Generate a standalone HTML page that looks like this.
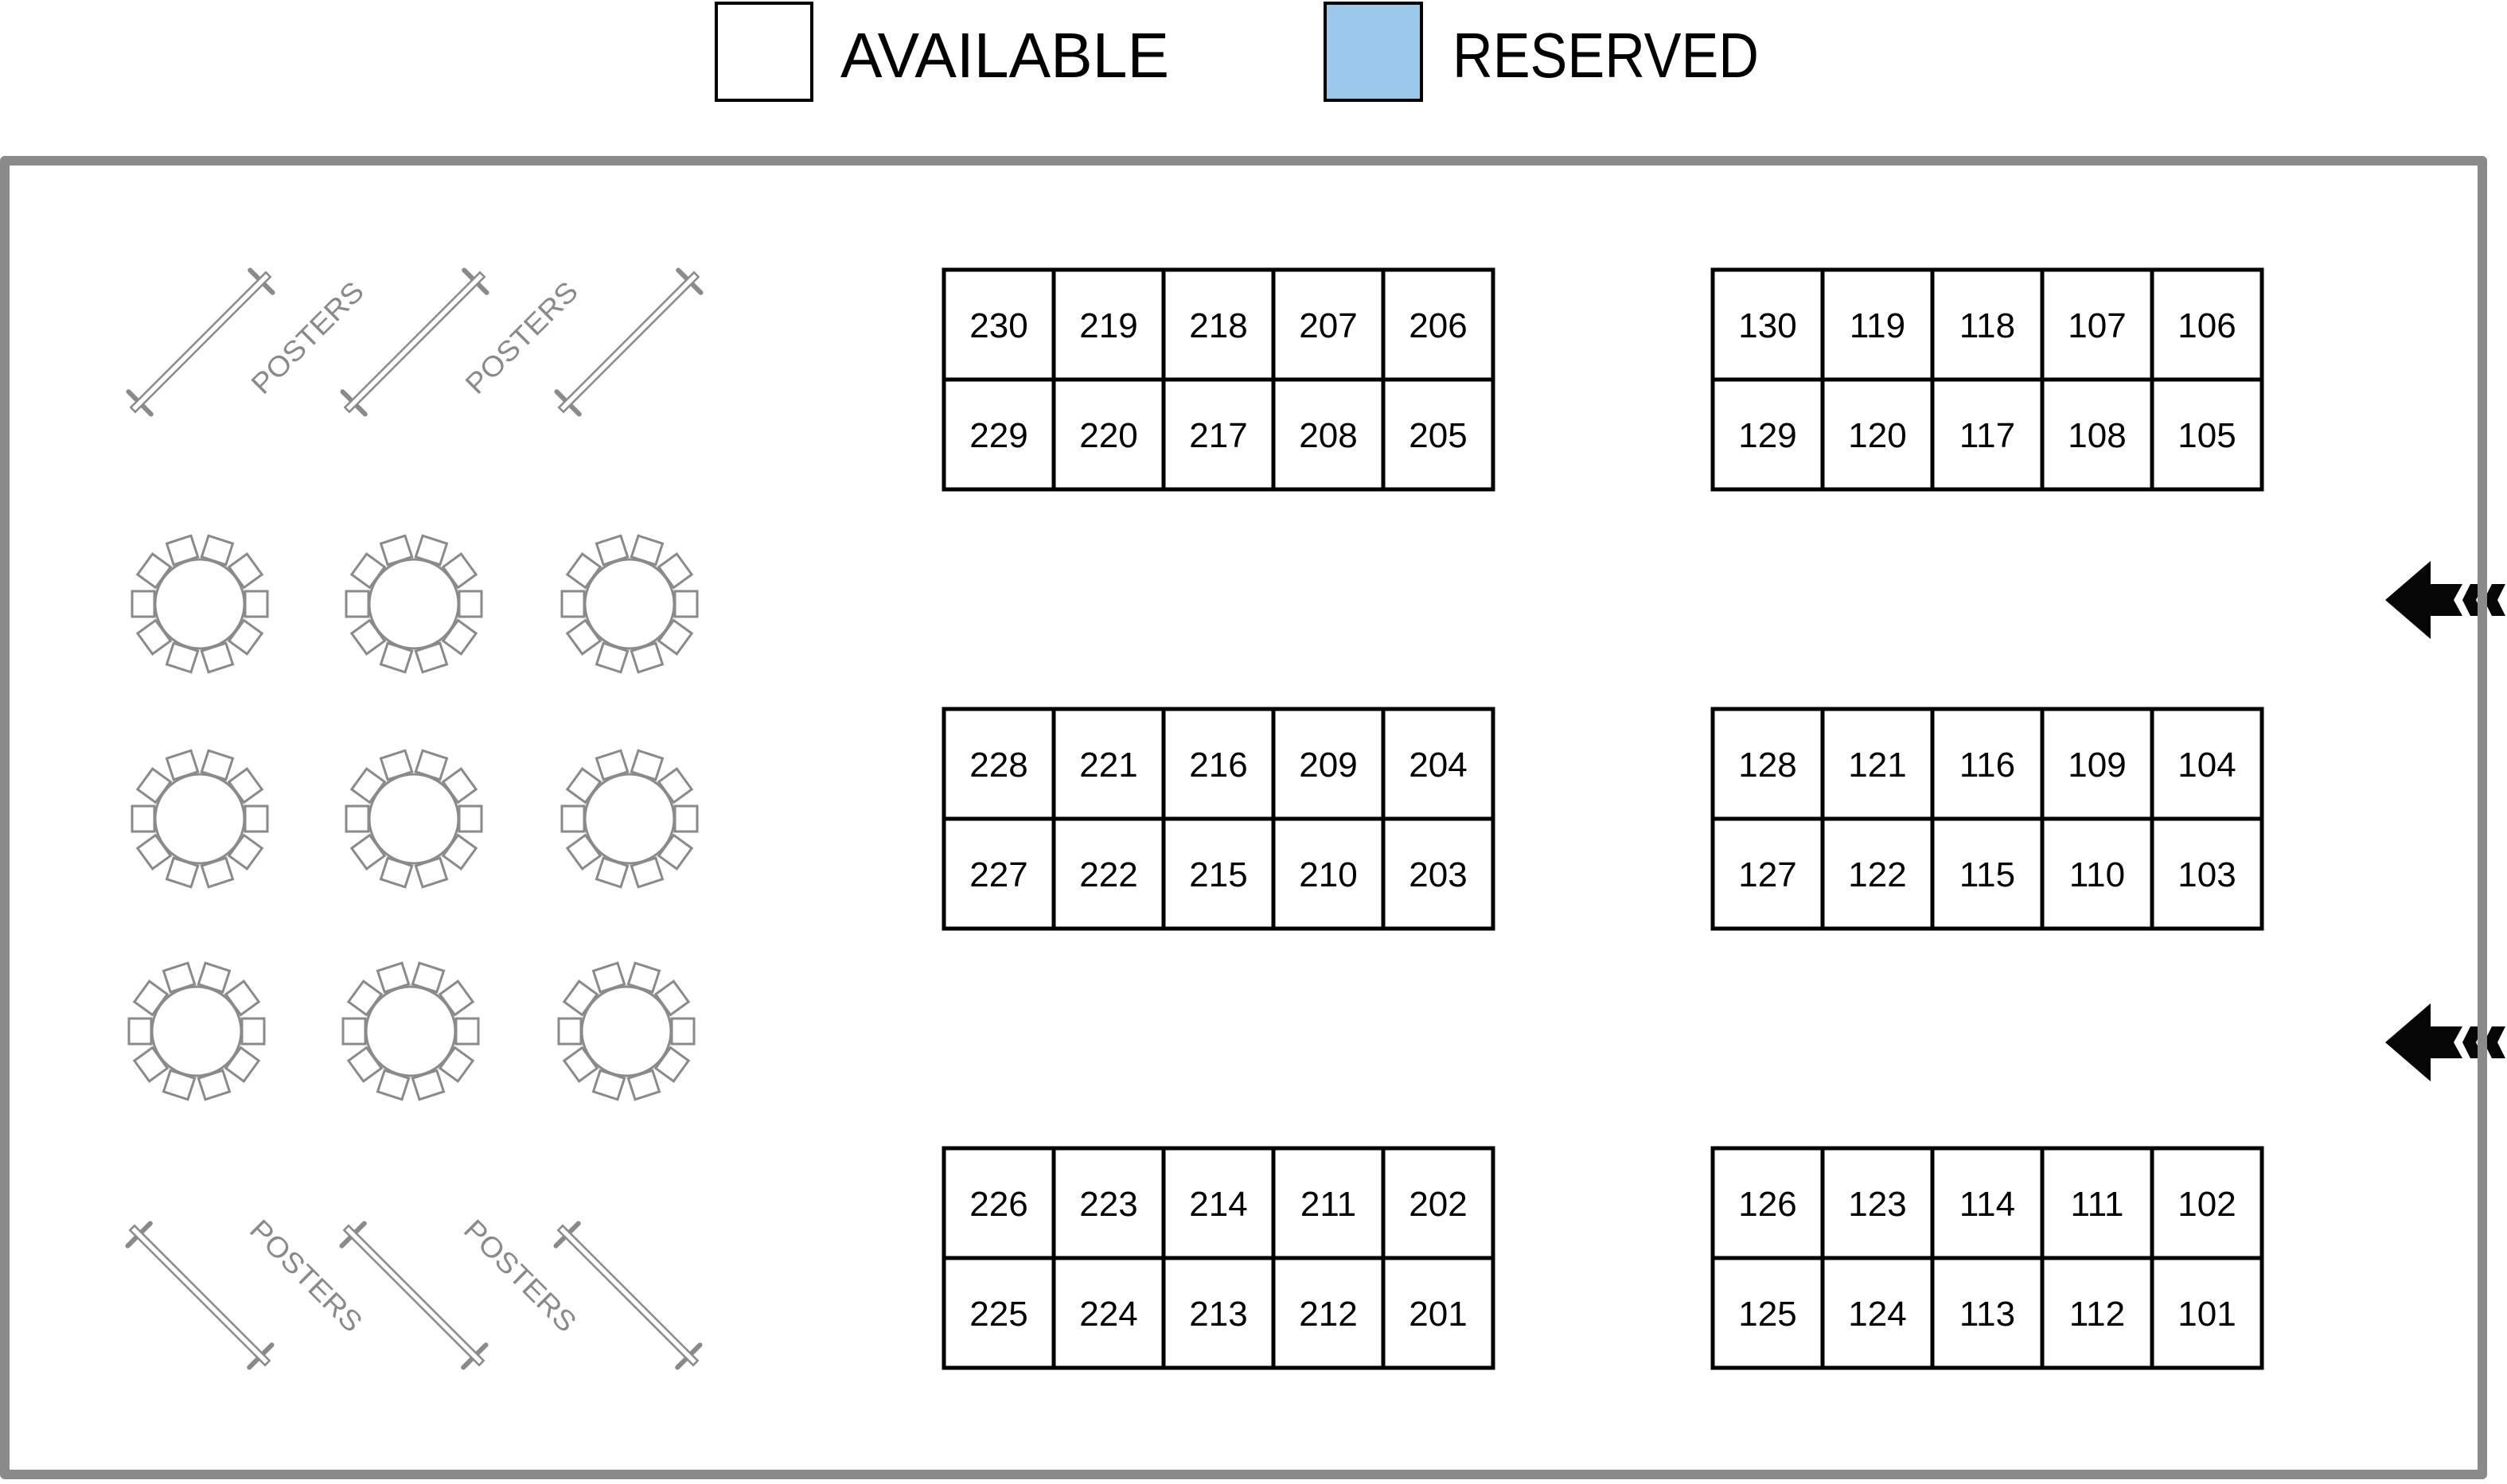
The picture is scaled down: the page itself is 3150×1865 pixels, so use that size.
<!DOCTYPE html>
<html><head><meta charset="utf-8"><style>html,body{margin:0;padding:0;background:#fff}svg{display:block}</style></head><body>
<svg width="3150" height="1865" viewBox="0 0 3150 1865" xmlns="http://www.w3.org/2000/svg">
<defs>
<g id="tbl" fill="#fff" stroke="#8a8a8a" stroke-width="3">
<rect x="57" y="-16" width="28" height="32" transform="rotate(0)"/>
<rect x="57" y="-16" width="28" height="32" transform="rotate(36)"/>
<rect x="57" y="-16" width="28" height="32" transform="rotate(72)"/>
<rect x="57" y="-16" width="28" height="32" transform="rotate(108)"/>
<rect x="57" y="-16" width="28" height="32" transform="rotate(144)"/>
<rect x="57" y="-16" width="28" height="32" transform="rotate(180)"/>
<rect x="57" y="-16" width="28" height="32" transform="rotate(216)"/>
<rect x="57" y="-16" width="28" height="32" transform="rotate(252)"/>
<rect x="57" y="-16" width="28" height="32" transform="rotate(288)"/>
<rect x="57" y="-16" width="28" height="32" transform="rotate(324)"/>
<circle cx="0" cy="0" r="56"/>
</g>
<g id="pst">
<line x1="-108" y1="-20" x2="-108" y2="20" stroke="#8a8a8a" stroke-width="6" stroke-linecap="round"/>
<line x1="108" y1="-20" x2="108" y2="20" stroke="#8a8a8a" stroke-width="6" stroke-linecap="round"/>
<rect x="-120" y="-4" width="240" height="8" fill="#fff" stroke="#8a8a8a" stroke-width="2.5"/>
</g>
<g id="grid" fill="none" stroke="#000" stroke-width="5">
<rect x="0" y="0" width="690" height="276"/>
<line x1="0" y1="138" x2="690" y2="138"/>
<line x1="138" y1="0" x2="138" y2="276"/>
<line x1="276" y1="0" x2="276" y2="276"/>
<line x1="414" y1="0" x2="414" y2="276"/>
<line x1="552" y1="0" x2="552" y2="276"/>
</g>
</defs>

<rect x="900" y="4" width="120" height="122" fill="#fff" stroke="#000" stroke-width="4"/>
<text x="1056" y="97" font-family="Liberation Sans, sans-serif" font-size="80" textLength="413" lengthAdjust="spacingAndGlyphs">AVAILABLE</text>
<rect x="1665" y="4" width="121" height="122" fill="#9ac9ec" stroke="#000" stroke-width="4"/>
<text x="1825" y="97" font-family="Liberation Sans, sans-serif" font-size="80" textLength="385" lengthAdjust="spacingAndGlyphs">RESERVED</text>

<g fill="#050505">
<polygon points="2997,754 3054,705 3054,734 3094,734 3083,754 3094,774 3054,774 3054,803"/>
<polygon points="3104,734 3121,734 3111,754 3121,774 3104,774 3094,754"/>
<polygon points="3131,734 3148,734 3138,754 3148,774 3131,774 3121,754"/>
<polygon points="2997,1310 3054,1261 3054,1290 3094,1290 3083,1310 3094,1330 3054,1330 3054,1359"/>
<polygon points="3104,1290 3121,1290 3111,1310 3121,1330 3104,1330 3094,1310"/>
<polygon points="3131,1290 3148,1290 3138,1310 3148,1330 3131,1330 3121,1310"/>
</g>

<rect x="6" y="202" width="3113" height="1651" fill="none" stroke="#8a8a8a" stroke-width="12" stroke-linejoin="round"/>

<use href="#pst" transform="translate(252,430) rotate(-45)"/>
<use href="#pst" transform="translate(521,430) rotate(-45)"/>
<use href="#pst" transform="translate(790,430) rotate(-45)"/>
<g font-family="Liberation Sans, sans-serif" font-size="36" fill="#8a8a8a" text-anchor="middle">
<text transform="translate(395,433) rotate(-45)" textLength="182" lengthAdjust="spacingAndGlyphs">POSTERS</text>
<text transform="translate(664,433) rotate(-45)" textLength="182" lengthAdjust="spacingAndGlyphs">POSTERS</text>
<text transform="translate(376,1612) rotate(45)" textLength="182" lengthAdjust="spacingAndGlyphs">POSTERS</text>
<text transform="translate(645,1612) rotate(45)" textLength="182" lengthAdjust="spacingAndGlyphs">POSTERS</text>
</g>
<use href="#pst" transform="translate(251,1628) rotate(45)"/>
<use href="#pst" transform="translate(520,1628) rotate(45)"/>
<use href="#pst" transform="translate(789,1628) rotate(45)"/>

<use href="#tbl" transform="translate(251,759)"/>
<use href="#tbl" transform="translate(520,759)"/>
<use href="#tbl" transform="translate(791,759)"/>
<use href="#tbl" transform="translate(251,1029)"/>
<use href="#tbl" transform="translate(520,1029)"/>
<use href="#tbl" transform="translate(791,1029)"/>
<use href="#tbl" transform="translate(247,1296)"/>
<use href="#tbl" transform="translate(516,1296)"/>
<use href="#tbl" transform="translate(787,1296)"/>

<use href="#grid" transform="translate(1186,339)"/>
<use href="#grid" transform="translate(2152,339)"/>
<use href="#grid" transform="translate(1186,891)"/>
<use href="#grid" transform="translate(2152,891)"/>
<use href="#grid" transform="translate(1186,1443)"/>
<use href="#grid" transform="translate(2152,1443)"/>

<g font-family="Liberation Sans, sans-serif" font-size="44" fill="#000" text-anchor="middle">
<text x="1255" y="424">230</text><text x="1393" y="424">219</text><text x="1531" y="424">218</text><text x="1669" y="424">207</text><text x="1807" y="424">206</text>
<text x="1255" y="562">229</text><text x="1393" y="562">220</text><text x="1531" y="562">217</text><text x="1669" y="562">208</text><text x="1807" y="562">205</text>
<text x="2221" y="424">130</text><text x="2359" y="424">119</text><text x="2497" y="424">118</text><text x="2635" y="424">107</text><text x="2773" y="424">106</text>
<text x="2221" y="562">129</text><text x="2359" y="562">120</text><text x="2497" y="562">117</text><text x="2635" y="562">108</text><text x="2773" y="562">105</text>

<text x="1255" y="976">228</text><text x="1393" y="976">221</text><text x="1531" y="976">216</text><text x="1669" y="976">209</text><text x="1807" y="976">204</text>
<text x="1255" y="1114">227</text><text x="1393" y="1114">222</text><text x="1531" y="1114">215</text><text x="1669" y="1114">210</text><text x="1807" y="1114">203</text>
<text x="2221" y="976">128</text><text x="2359" y="976">121</text><text x="2497" y="976">116</text><text x="2635" y="976">109</text><text x="2773" y="976">104</text>
<text x="2221" y="1114">127</text><text x="2359" y="1114">122</text><text x="2497" y="1114">115</text><text x="2635" y="1114">110</text><text x="2773" y="1114">103</text>

<text x="1255" y="1528">226</text><text x="1393" y="1528">223</text><text x="1531" y="1528">214</text><text x="1669" y="1528">211</text><text x="1807" y="1528">202</text>
<text x="1255" y="1666">225</text><text x="1393" y="1666">224</text><text x="1531" y="1666">213</text><text x="1669" y="1666">212</text><text x="1807" y="1666">201</text>
<text x="2221" y="1528">126</text><text x="2359" y="1528">123</text><text x="2497" y="1528">114</text><text x="2635" y="1528">111</text><text x="2773" y="1528">102</text>
<text x="2221" y="1666">125</text><text x="2359" y="1666">124</text><text x="2497" y="1666">113</text><text x="2635" y="1666">112</text><text x="2773" y="1666">101</text>
</g>
</svg>
</body></html>
